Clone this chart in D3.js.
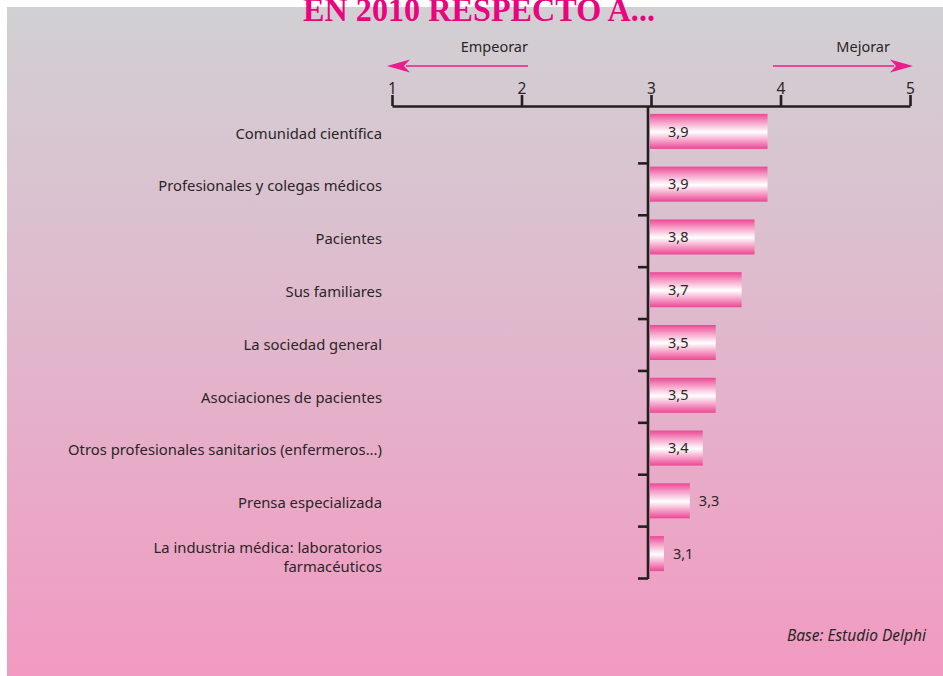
<!DOCTYPE html>
<html>
<head>
<meta charset="utf-8">
<script src="https://cdn.jsdelivr.net/npm/d3@7"></script>
<style>
  html, body { margin: 0; padding: 0; background: #fff; }
  svg { display: block; }
  text { font-family: "Noto Sans", Lato, sans-serif; fill: #2b2626; }
</style>
</head>
<body>
<div id="chart"></div>
<script>
const categories = [
  ["Comunidad científica"],
  ["Profesionales y colegas médicos"],
  ["Pacientes"],
  ["Sus familiares"],
  ["La sociedad general"],
  ["Asociaciones de pacientes"],
  ["Otros profesionales sanitarios (enfermeros...)"],
  ["Prensa especializada"],
  ["La industria médica: laboratorios", "farmacéuticos"]
]
const values = [3.9, 3.9, 3.8, 3.7, 3.5, 3.5, 3.4, 3.3, 3.1]
const valueLabels = ["3,9", "3,9", "3,8", "3,7", "3,5", "3,5", "3,4", "3,3", "3,1"]
const xTicks = [1, 2, 3, 4, 5]

const width = 943, height = 676
const axisY = 106

const svg = d3.select("#chart")
  .append("svg")
  .attr("width", width)
  .attr("height", height)

const defs = svg.append("defs")

const bg = defs.append("linearGradient")
  .attr("id", "bg")
  .attr("x1", 0).attr("y1", 0).attr("x2", 0).attr("y2", 1)
bg.append("stop").attr("offset", "0%").attr("stop-color", "#d1d0d3")
bg.append("stop").attr("offset", "35%").attr("stop-color", "#dcbfcf")
bg.append("stop").attr("offset", "100%").attr("stop-color", "#f29ac1")

const barGrad = defs.append("linearGradient")
  .attr("id", "barGrad")
  .attr("x1", 0).attr("y1", 0).attr("x2", 0).attr("y2", 1)
barGrad.append("stop").attr("offset", "0%").attr("stop-color", "#ec4795")
barGrad.append("stop").attr("offset", "22%").attr("stop-color", "#f59ac4")
barGrad.append("stop").attr("offset", "52%").attr("stop-color", "#ffffff")
barGrad.append("stop").attr("offset", "78%").attr("stop-color", "#f59ac4")
barGrad.append("stop").attr("offset", "100%").attr("stop-color", "#ec4795")

// panel
svg.append("rect")
  .attr("x", 7)
  .attr("y", 7)
  .attr("width", width - 7)
  .attr("height", height - 7)
  .attr("fill", "url(#bg)")

// title (cut at the top as in the original)
svg.append("text")
  .attr("x", 303)
  .attr("y", 21)
  .attr("textLength", 352)
  .attr("lengthAdjust", "spacingAndGlyphs")
  .style("font-family", "'Liberation Serif', 'DejaVu Serif', serif")
  .style("font-size", "33px")
  .style("font-weight", "bold")
  .style("fill", "#e8057f")
  .text("EN 2010 RESPECTO A...")

const xScale = d3.scaleLinear()
  .domain([1, 5])
  .range([392, 910])

const yScale = d3.scaleBand()
  .domain(d3.range(categories.length))
  .range([105, 580])
  .paddingInner(0.336)
  .paddingOuter(0.168)

const tickScale = d3.scaleLinear()
  .domain([0, categories.length])
  .range([111, 578])

// top axis
const xAxis = d3.axisTop(xScale)
  .tickValues(xTicks)
  .tickFormat(d3.format("d"))
  .tickSizeInner(11)
  .tickSizeOuter(0)
  .tickPadding(1)

const gx = svg.append("g")
  .attr("transform", `translate(0, ${axisY})`)
  .call(xAxis)
gx.select(".domain").attr("stroke", "#231f20").attr("stroke-width", 2.6)
gx.selectAll(".tick line").attr("stroke", "#231f20").attr("stroke-width", 2.6)
gx.selectAll(".tick text")
  .style("font-family", "'Noto Sans', Lato, sans-serif")
  .style("font-size", "15.5px")
  .attr("fill", "#2b2626")

// vertical axis at 3
const yAxis = d3.axisLeft(tickScale)
  .tickValues(d3.range(1, categories.length + 1))
  .tickFormat("")
  .tickSizeInner(10)
  .tickSizeOuter(0)

const gy = svg.append("g")
  .attr("transform", `translate(${xScale(3) - 3}, 0)`)
  .call(yAxis)
gy.select(".domain").remove()
gy.selectAll(".tick line").attr("stroke", "#231f20").attr("stroke-width", 2.6)
gy.append("line")
  .attr("x1", 0).attr("x2", 0)
  .attr("y1", axisY).attr("y2", tickScale(categories.length) + 1)
  .attr("stroke", "#231f20")
  .attr("stroke-width", 2.6)

// bars
svg.selectAll(".bar")
  .data(values)
  .enter()
  .append("rect")
  .attr("class", "bar")
  .attr("x", xScale(3) - 1)
  .attr("y", (d, i) => yScale(i))
  .attr("width", d => xScale(d) - xScale(3) + 1)
  .attr("height", yScale.bandwidth())
  .attr("fill", "url(#barGrad)")

// value labels
svg.selectAll(".val")
  .data(values)
  .enter()
  .append("text")
  .attr("class", "val")
  .attr("x", d => d >= 3.4 ? xScale(3) + 17 : xScale(d) + 9)
  .attr("y", (d, i) => yScale(i) + yScale.bandwidth() / 2)
  .attr("dy", "0.36em")
  .style("font-size", "14.5px")
  .text((d, i) => valueLabels[i])

// category labels
const cat = svg.selectAll(".cat")
  .data(categories)
  .enter()
  .append("text")
  .attr("class", "cat")
  .attr("text-anchor", "end")
  .attr("y", (d, i) => yScale(i) + yScale.bandwidth() / 2 + 2 - (d.length - 1) * 7.5)
  .style("font-size", "14.8px")

cat.selectAll("tspan")
  .data(d => d)
  .enter()
  .append("tspan")
  .attr("x", 382)
  .attr("dy", (d, i) => i === 0 ? "0.36em" : "19px")
  .text(d => d)

// direction arrows
function arrow(x1, x2, y, label) {
  const dir = x2 > x1 ? 1 : -1
  const head = 23
  svg.append("line")
    .attr("x1", x1).attr("x2", x2 - dir * head + dir * 4)
    .attr("y1", y).attr("y2", y)
    .attr("stroke", "#ec1c8c")
    .attr("stroke-width", 1.6)
  svg.append("path")
    .attr("d", `M${x2},${y} L${x2 - dir * head},${y - 6.5} L${x2 - dir * (head - 6)},${y} L${x2 - dir * head},${y + 6.5} Z`)
    .attr("fill", "#ec1c8c")
  svg.append("text")
    .attr("x", dir < 0 ? x1 : x2 - dir * head)
    .attr("y", 52)
    .attr("text-anchor", "end")
    .style("font-size", "14.5px")
    .text(label)
}
arrow(528, 387, 66, "Empeorar")
arrow(773, 913, 66, "Mejorar")

// source
svg.append("text")
  .attr("x", 926)
  .attr("y", 641)
  .attr("text-anchor", "end")
  .style("font-size", "15.5px")
  .style("font-style", "italic")
  .text("Base: Estudio Delphi")
</script>
</body>
</html>
